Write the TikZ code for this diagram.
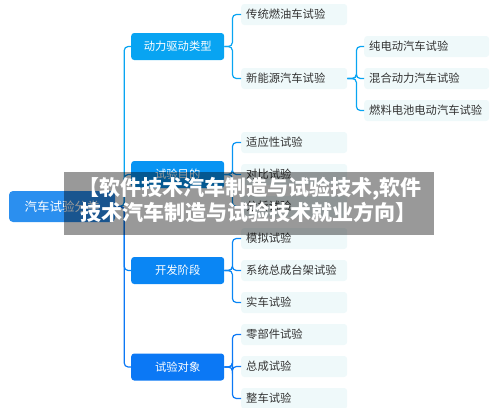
\documentclass[tikz,border=0pt]{standalone}
\usepackage{fontspec}
\newfontfamily\cjk{Noto Sans CJK SC}
\definecolor{rootc}{HTML}{2B8FEF}
\definecolor{c1}{HTML}{08A4F2}
\definecolor{c2}{HTML}{0894F3}
\definecolor{c3}{HTML}{0A86F4}
\definecolor{c4}{HTML}{0B78F5}
\definecolor{leafbg}{HTML}{EFF9FA}
\definecolor{leaftxt}{HTML}{333333}
\tikzset{
  rootbox/.style={fill=rootc, rounded corners=4pt, minimum width=106pt, minimum height=31pt, inner sep=0pt, text=white, font=\cjk\fontsize{12.5}{14}\selectfont},
  midbox/.style={fill=#1, rounded corners=3pt, minimum width=93pt, minimum height=27pt, inner sep=0pt, text=white, anchor=west, font=\cjk\fontsize{11.3}{13}\selectfont},
  leafbox/.style={fill=leafbg, rounded corners=3pt, text width=96pt, inner xsep=5pt, inner ysep=0pt, minimum height=21pt, align=left, anchor=west, text=leaftxt, font=\cjk\fontsize{11.3}{13}\selectfont},
  leafwide/.style={leafbox, text width=115pt},
  link/.style={draw=#1, line width=1.2pt, rounded corners=4pt},
  titletxt/.style={text=white, font=\cjk\bfseries\fontsize{21}{24}\selectfont, inner sep=0pt, anchor=west}
}
\begin{document}
\begin{tikzpicture}[x=1pt,y=-1pt]
\useasboundingbox (0,0) rectangle (500,407);
% root
\node[rootbox] (root) at (62,206.5) {汽车试验分类};
% level 1
\node[midbox=c1] (a) at (131,46.5) {动力驱动类型};
\node[midbox=c2] (b) at (131,174.5) {试验目的};
\node[midbox=c3] (c) at (131,270.5) {开发阶段};
\node[midbox=c4] (d) at (131,367) {试验对象};
% level 2
\node[leafbox] (a1) at (241,14.5) {传统燃油车试验};
\node[leafbox] (a2) at (241,78.5) {新能源汽车试验};
\node[leafbox] (b1) at (241,142.5) {适应性试验};
\node[leafbox] (b2) at (241,174.5) {对比试验};
\node[leafbox] (b3) at (241,206.5) {分析试验};
\node[leafbox] (c1n) at (241,238.5) {模拟试验};
\node[leafbox] (c2n) at (241,270.5) {系统总成台架试验};
\node[leafbox] (c3n) at (241,302.5) {实车试验};
\node[leafbox] (d1) at (241,334.5) {零部件试验};
\node[leafbox] (d2) at (241,366.5) {总成试验};
\node[leafbox] (d3) at (241,398.5) {整车试验};
% level 3
\node[leafwide] (e1) at (364,46.5) {纯电动汽车试验};
\node[leafwide] (e2) at (364,78.5) {混合动力汽车试验};
\node[leafwide] (e3) at (364,110.5) {燃料电池电动汽车试验};
% links root -> level 1
\foreach \n/\c in {a/c1,b/c2,c/c3,d/c4}
  \draw[link=\c] (root.east) -- ++(9,0) |- (\n.west);
% level 1 -> level 2
\foreach \n in {a1,a2} \draw[link=c1] (a.east) -- ++(8,0) |- (\n.west);
\foreach \n in {b1,b2,b3} \draw[link=c2] (b.east) -- ++(8,0) |- (\n.west);
\foreach \n in {c1n,c2n,c3n} \draw[link=c3] (c.east) -- ++(8,0) |- (\n.west);
\foreach \n in {d1,d2,d3} \draw[link=c4] (d.east) -- ++(8,0) |- (\n.west);
% level 2 -> level 3
\foreach \n in {e1,e2,e3} \draw[link=c1] (a2.east) -- ++(9,0) |- (\n.west);
% overlay
\fill[black, opacity=0.4] (64,172) rectangle (434,235);
\node[titletxt] (t1) at (78,188.5) {【软件技术汽车制造与试验技术,软件};
\node[titletxt] (t2) at (80,212.5) {技术汽车制造与试验技术就业方向】};
\end{tikzpicture}
\end{document}
